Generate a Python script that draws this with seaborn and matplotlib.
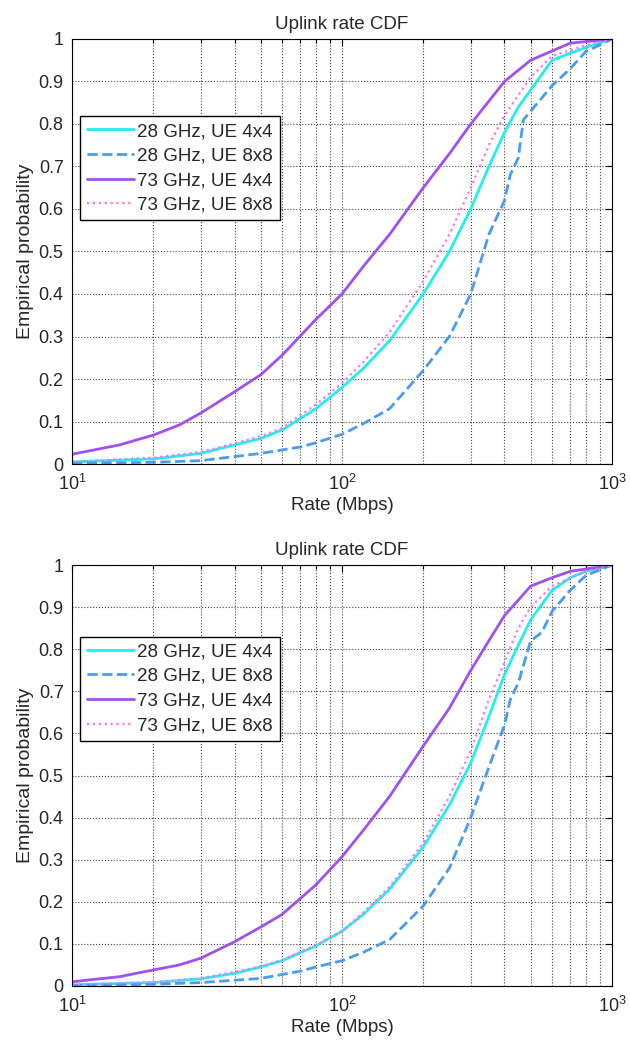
import numpy as np
import pandas as pd
import matplotlib
matplotlib.use("Agg")
import matplotlib.pyplot as plt
import seaborn as sns
from matplotlib.ticker import LogLocator, NullFormatter

sns.set_style("white")
plt.rcParams['font.family'] = ['Liberation Sans', 'DejaVu Sans']
plt.rcParams['mathtext.fontset'] = 'custom'
plt.rcParams['mathtext.rm'] = 'Liberation Sans'
plt.rcParams['mathtext.it'] = 'Liberation Sans'
plt.rcParams['mathtext.default'] = 'regular'

series_names = ["28 GHz, UE 4x4", "28 GHz, UE 8x8", "73 GHz, UE 4x4", "73 GHz, UE 8x8"]

# ---- top panel ----
top_28_4_x = [10, 20, 30, 40, 50, 60, 80, 100, 120, 150, 200, 250, 300, 350, 400, 450, 500, 600, 800, 1000]
top_28_4_y = [0.005, 0.012, 0.025, 0.045, 0.06, 0.08, 0.13, 0.18, 0.225, 0.29, 0.40, 0.50, 0.60, 0.70, 0.78, 0.84, 0.88, 0.95, 0.98, 1.0]
top_28_8_x = [10, 20, 30, 50, 70, 80, 100, 120, 150, 200, 250, 300, 350, 400, 420, 450, 470, 500, 600, 700, 800, 1000]
top_28_8_y = [0.002, 0.004, 0.008, 0.025, 0.04, 0.05, 0.07, 0.095, 0.13, 0.22, 0.30, 0.40, 0.54, 0.62, 0.68, 0.72, 0.81, 0.83, 0.89, 0.93, 0.97, 1.0]
top_73_4_x = [10, 15, 20, 25, 30, 40, 50, 60, 80, 100, 120, 150, 200, 250, 300, 400, 500, 700, 1000]
top_73_4_y = [0.023, 0.045, 0.068, 0.092, 0.12, 0.17, 0.21, 0.256, 0.34, 0.40, 0.465, 0.54, 0.65, 0.73, 0.80, 0.90, 0.95, 0.99, 1.0]
top_73_8_x = [10, 20, 30, 50, 60, 80, 100, 120, 150, 200, 250, 300, 350, 400, 500, 600, 800, 1000]
top_73_8_y = [0.005, 0.015, 0.028, 0.065, 0.085, 0.14, 0.19, 0.24, 0.31, 0.43, 0.54, 0.65, 0.75, 0.82, 0.91, 0.96, 0.985, 1.0]

# ---- bottom panel ----
bot_28_4_x = [10, 20, 30, 40, 50, 60, 80, 100, 120, 150, 200, 250, 300, 350, 400, 450, 500, 600, 700, 800, 1000]
bot_28_4_y = [0.003, 0.008, 0.017, 0.03, 0.045, 0.06, 0.095, 0.13, 0.17, 0.23, 0.33, 0.43, 0.53, 0.64, 0.74, 0.81, 0.87, 0.94, 0.97, 0.985, 1.0]
bot_28_8_x = [10, 20, 30, 50, 70, 80, 100, 120, 150, 200, 250, 300, 350, 400, 420, 450, 500, 550, 600, 700, 800, 1000]
bot_28_8_y = [0.001, 0.004, 0.008, 0.018, 0.035, 0.045, 0.06, 0.08, 0.11, 0.19, 0.28, 0.40, 0.52, 0.62, 0.68, 0.72, 0.82, 0.84, 0.89, 0.94, 0.975, 1.0]
bot_73_4_x = [10, 15, 20, 25, 30, 40, 50, 60, 80, 100, 120, 150, 200, 250, 300, 350, 400, 500, 600, 700, 1000]
bot_73_4_y = [0.01, 0.022, 0.038, 0.05, 0.066, 0.105, 0.14, 0.17, 0.24, 0.307, 0.37, 0.45, 0.57, 0.66, 0.75, 0.82, 0.88, 0.95, 0.97, 0.985, 1.0]
bot_73_8_x = [10, 20, 30, 50, 60, 80, 100, 120, 150, 200, 250, 300, 350, 400, 450, 500, 600, 800, 1000]
bot_73_8_y = [0.003, 0.009, 0.018, 0.046, 0.062, 0.097, 0.13, 0.175, 0.235, 0.34, 0.45, 0.56, 0.68, 0.77, 0.85, 0.90, 0.95, 0.985, 1.0]

title = "Uplink rate CDF"
xlabel = "Rate (Mbps)"
ylabel = "Empirical probability"

colors = ["#22EEEE", "#4A9AEE", "#A050F0", "#FF70F0"]
styles = ["-", "--", "-", ":"]
widths = [2.0, 2.0, 2.0, 1.6]

fig = plt.figure(figsize=(6.30, 10.47), dpi=100)
ax_top = fig.add_axes([0.1143, 0.5568, 0.857, 0.406])
ax_bot = fig.add_axes([0.1143, 0.0583, 0.857, 0.402])

panels = [
    (ax_top, [(top_28_4_x, top_28_4_y), (top_28_8_x, top_28_8_y), (top_73_4_x, top_73_4_y), (top_73_8_x, top_73_8_y)], 0.818),
    (ax_bot, [(bot_28_4_x, bot_28_4_y), (bot_28_8_x, bot_28_8_y), (bot_73_4_x, bot_73_4_y), (bot_73_8_x, bot_73_8_y)], 0.83),
]

for ax, data, leg_top in panels:
    for (xs, ys), name, c, ls, lw in zip(data, series_names, colors, styles, widths):
        df = pd.DataFrame({"x": xs, "y": ys})
        sns.lineplot(data=df, x="x", y="y", ax=ax, color=c, linestyle=ls,
                     linewidth=lw, label=name, sort=False)
    ax.set_xscale("log")
    ax.set_xlim(10, 1000)
    ax.set_ylim(0, 1)
    ax.set_yticks(np.arange(0, 1.01, 0.1))
    ax.set_yticklabels(["0", "0.1", "0.2", "0.3", "0.4", "0.5", "0.6", "0.7", "0.8", "0.9", "1"])
    ax.xaxis.set_minor_locator(LogLocator(base=10, subs=np.arange(2, 10)))
    ax.xaxis.set_minor_formatter(NullFormatter())
    ax.grid(True, which="major", axis="both", linestyle=":", color="#444444", linewidth=0.8)
    ax.grid(True, which="minor", axis="x", linestyle=":", color="#444444", linewidth=0.8)
    ax.tick_params(which="both", direction="in", top=True, right=True, labelsize=13,
                   color="black", width=0.8)
    ax.tick_params(which="major", length=5)
    ax.tick_params(which="minor", length=3)
    ax.tick_params(axis="x", which="major", pad=7)
    ax.tick_params(axis="y", which="major", pad=6)
    for sp in ax.spines.values():
        sp.set_color("black")
        sp.set_linewidth(0.8)
    ax.set_title(title, fontsize=13.5, pad=7)
    ax.set_xlabel(xlabel, fontsize=13.5, labelpad=2)
    ax.set_ylabel(ylabel, fontsize=14, labelpad=3)
    leg = ax.legend(loc="upper left", bbox_to_anchor=(0.015, leg_top), borderaxespad=0,
                    fontsize=13.5, frameon=True, fancybox=False, edgecolor="black",
                    handlelength=2.5, handletextpad=0.2, borderpad=0.35,
                    labelspacing=0.4, framealpha=1)
    leg.get_frame().set_linewidth(1.0)

fig.savefig("out.png", dpi=100)
